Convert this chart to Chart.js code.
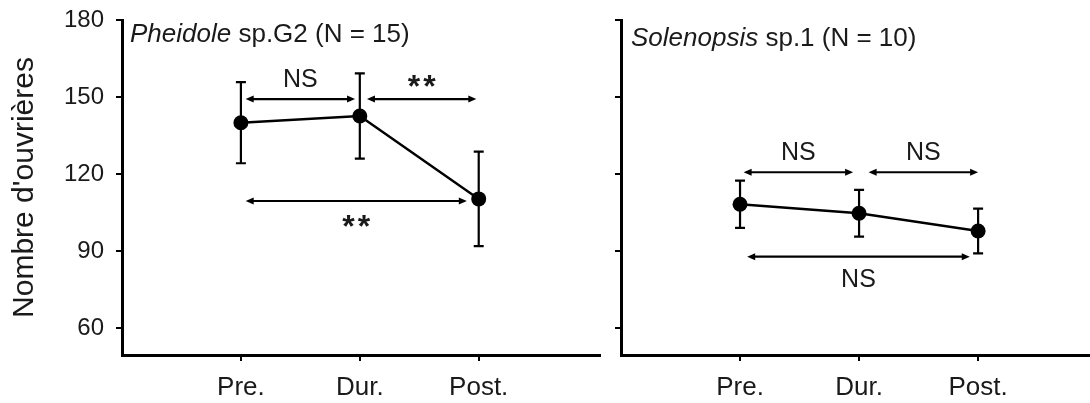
<!DOCTYPE html>
<html>
<head>
<meta charset="utf-8">
<script src="https://cdn.jsdelivr.net/npm/chart.js@4/dist/chart.umd.min.js"></script>
<style>
  html, body { margin: 0; padding: 0; background: #fff; }
  #wrap { position: relative; width: 1090px; height: 403px; overflow: hidden; }
  canvas { position: absolute; top: 0; }
  #left { left: 0; }
  #right { left: 605px; }
</style>
</head>
<body>
<div id="wrap">
  <canvas id="left" width="605" height="403"></canvas>
  <canvas id="right" width="485" height="403"></canvas>
</div>
<script>
// periods and y ticks shared by both panels
var categories = ["Pre.", "Dur.", "Post."];
var yTicks = [60, 90, 120, 150, 180];

// Pheidole sp.G2 : mean number of workers and error bars
var pheidoleMeans = [140.0, 142.6, 110.3];
var pheidoleErrors = [15.8, 16.6, 18.4];
var pheidoleTests = [
  { from: "Pre.", to: "Dur.", label: "NS" },
  { from: "Dur.", to: "Post.", label: "**" },
  { from: "Pre.", to: "Post.", label: "**" }
];

// Solenopsis sp.1
var solenopsisMeans = [108.2, 104.7, 97.8];
var solenopsisErrors = [9.2, 9.1, 8.7];
var solenopsisTests = [
  { from: "Pre.", to: "Dur.", label: "NS" },
  { from: "Dur.", to: "Post.", label: "NS" },
  { from: "Pre.", to: "Post.", label: "NS" }
];

var INK = "#1a1a1a";
var FONT = "'Liberation Sans', Arial, sans-serif";

// vertical error bars with caps
var errorBars = {
  id: "errorBars",
  beforeDatasetsDraw: function(chart) {
    var o = chart.options.plugins.errorBars;
    var xs = chart.scales.x, ys = chart.scales.y;
    var ctx = chart.ctx;
    ctx.save();
    ctx.strokeStyle = "#000";
    ctx.lineWidth = 2.2;
    o.means.forEach(function(m, i) {
      var x = xs.getPixelForValue(i + 1);
      var top = ys.getPixelForValue(m + o.errors[i]);
      var bot = ys.getPixelForValue(m - o.errors[i]);
      ctx.beginPath();
      ctx.moveTo(x, top); ctx.lineTo(x, bot);
      ctx.moveTo(x - 5, top); ctx.lineTo(x + 5, top);
      ctx.moveTo(x - 5, bot); ctx.lineTo(x + 5, bot);
      ctx.stroke();
    });
    ctx.restore();
  }
};

function arrowHead(ctx, x, y, dir) {
  ctx.beginPath();
  ctx.moveTo(x, y);
  ctx.lineTo(x - dir * 8, y - 3.5);
  ctx.lineTo(x - dir * 8, y + 3.5);
  ctx.closePath();
  ctx.fill();
}

// double arrows between periods with the test result
var comparisons = {
  id: "comparisons",
  afterDatasetsDraw: function(chart) {
    var o = chart.options.plugins.comparisons;
    var xs = chart.scales.x, ys = chart.scales.y;
    var ctx = chart.ctx;
    ctx.save();
    ctx.strokeStyle = "#000";
    ctx.fillStyle = "#000";
    ctx.lineWidth = 2.2;
    o.tests.forEach(function(t, i) {
      var b = o.brackets[i];
      var x0 = xs.getPixelForValue(categories.indexOf(t.from) + 1 + b.insets[0]);
      var x1 = xs.getPixelForValue(categories.indexOf(t.to) + 1 - b.insets[1]);
      var y = ys.getPixelForValue(b.level);
      ctx.beginPath();
      ctx.moveTo(x0 + 4, y); ctx.lineTo(x1 - 4, y);
      ctx.stroke();
      arrowHead(ctx, x0, y, -1);
      arrowHead(ctx, x1, y, 1);

      var stars = t.label.indexOf("*") >= 0;
      var cy = b.side === "above" ? y - (stars ? 19 : 21) : y + (stars ? 19 : 21);
      var cx = (x0 + x1) / 2;
      ctx.fillStyle = INK;
      ctx.textAlign = "center";
      ctx.textBaseline = "alphabetic";
      if (stars) {
        ctx.font = "bold 32px " + FONT;
        ctx.letterSpacing = "3px";
        ctx.fillText(t.label, cx + 1.5, cy + 17);
        ctx.letterSpacing = "0px";
      } else {
        ctx.font = "25px " + FONT;
        ctx.fillText(t.label, cx, cy + 9);
      }
      ctx.fillStyle = "#000";
    });
    ctx.restore();
  }
};

// species name (italic genus) in the top left corner
var panelTitle = {
  id: "panelTitle",
  afterDraw: function(chart) {
    var o = chart.options.plugins.panelTitle;
    var ctx = chart.ctx;
    var x = chart.chartArea.left + o.dx;
    var y = chart.chartArea.top + o.dy;
    ctx.save();
    ctx.fillStyle = INK;
    ctx.textBaseline = "alphabetic";
    ctx.textAlign = "left";
    ctx.font = "italic 26px " + FONT;
    ctx.fillText(o.genus, x, y);
    var w = ctx.measureText(o.genus).width;
    ctx.font = "26px " + FONT;
    ctx.fillText(o.rest, x + w, y);
    ctx.restore();
  }
};

function makePanel(id, p) {
  var points = p.means.map(function(m, i) { return { x: i + 1, y: m }; });
  return new Chart(document.getElementById(id), {
    type: "line",
    data: {
      datasets: [{
        data: points,
        borderColor: "#000",
        borderWidth: 2.4,
        pointRadius: 7.5,
        pointBackgroundColor: "#000",
        pointBorderWidth: 0,
        tension: 0
      }]
    },
    plugins: [errorBars, comparisons, panelTitle],
    options: {
      responsive: false,
      animation: false,
      devicePixelRatio: 1,
      layout: { autoPadding: false, padding: { top: 20, right: p.padRight, left: 0, bottom: 0 } },
      plugins: {
        legend: { display: false },
        tooltip: { enabled: false },
        errorBars: { means: p.means, errors: p.errors },
        comparisons: { tests: p.tests, brackets: p.brackets },
        panelTitle: { genus: p.genus, rest: p.rest, dx: p.titleDx, dy: p.titleDy }
      },
      scales: {
        x: {
          type: "linear",
          min: 0,
          max: p.xMax,
          afterBuildTicks: function(s) {
            s.ticks = categories.map(function(c, i) { return { value: i + 1 }; });
          },
          afterFit: function(s) {
            s.height = 48;
            s.paddingLeft = 0;
            s.paddingRight = 0;
          },
          ticks: {
            callback: function(v) { return categories[v - 1]; },
            font: { size: 26, family: FONT },
            color: INK,
            padding: 11,
            maxRotation: 0
          },
          grid: { drawOnChartArea: false, drawTicks: true, tickLength: 6, color: "#000", lineWidth: 2 },
          border: { color: "#000", width: 3 }
        },
        y: {
          min: 49.5,
          max: 180,
          afterBuildTicks: function(s) {
            s.ticks = yTicks.map(function(v) { return { value: v }; });
          },
          afterFit: function(s) {
            s.width = p.yWidth;
            s.paddingTop = 0;
            s.paddingBottom = 0;
          },
          ticks: {
            display: p.showYLabels,
            font: { size: 24, family: FONT },
            color: INK,
            padding: 12
          },
          title: {
            display: p.showYLabels,
            text: "Nombre d'ouvrières",
            font: { size: 30, family: FONT },
            color: INK,
            padding: { top: 7, bottom: 0 }
          },
          grid: { drawOnChartArea: false, drawTicks: true, tickLength: 6, color: "#000", lineWidth: 2 },
          border: { color: "#000", width: 3 }
        }
      }
    }
  });
}

makePanel("left", {
  means: pheidoleMeans,
  errors: pheidoleErrors,
  tests: pheidoleTests,
  brackets: [
    { level: 149.2, insets: [0.04, 0.04], side: "above" },
    { level: 149.2, insets: [0.06, 0.02], side: "above" },
    { level: 109.5, insets: [0.04, 0.10], side: "below" }
  ],
  genus: "Pheidole",
  rest: " sp.G2 (N = 15)",
  titleDx: 8,
  titleDy: 22,
  xMax: 4.02,
  yWidth: 122,
  padRight: 5,
  showYLabels: true
});

makePanel("right", {
  means: solenopsisMeans,
  errors: solenopsisErrors,
  tests: solenopsisTests,
  brackets: [
    { level: 120.7, insets: [0.03, 0.05], side: "above" },
    { level: 120.7, insets: [0.08, 0.0], side: "above" },
    { level: 87.8, insets: [0.06, 0.07], side: "below" }
  ],
  genus: "Solenopsis",
  rest: " sp.1 (N = 10)",
  titleDx: 10,
  titleDy: 26,
  xMax: 3.94,
  yWidth: 16,
  padRight: 0,
  showYLabels: false
});
</script>
</body>
</html>
